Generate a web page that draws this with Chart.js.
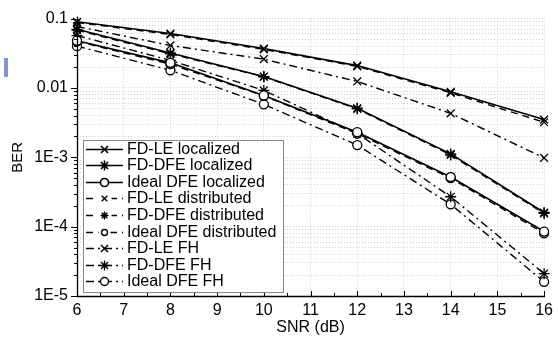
<!DOCTYPE html>
<html><head><meta charset="utf-8">
<script src="https://cdn.jsdelivr.net/npm/chart.js@4.4.0/dist/chart.umd.min.js"></script>
<style>html,body{margin:0;padding:0;background:#fff}#wrap{width:558px;height:337px;position:relative}</style>
</head><body><div id="wrap"><canvas id="c" width="558" height="337"></canvas></div>
<script>
const snr = [6, 8, 10, 12, 14, 16];
const fdleLocalized    = [0.090, 0.061, 0.037, 0.021, 0.0088, 0.0035];
const fddfeLocalized   = [0.070, 0.032, 0.0146, 0.0051, 0.00112, 0.00016];
const idealLocalized   = [0.048, 0.023, 0.0078, 0.0023, 0.00052, 0.000085];
const fdleDistributed  = [0.088, 0.059, 0.036, 0.0205, 0.0085, 0.0032];
const fddfeDistributed = [0.068, 0.031, 0.0145, 0.0050, 0.00108, 0.000155];
const idealDistributed = [0.047, 0.022, 0.0077, 0.0022, 0.00050, 0.00008];
const fdleFH           = [0.077, 0.041, 0.026, 0.0124, 0.0043, 0.00098];
const fddfeFH          = [0.057, 0.025, 0.0092, 0.0022, 0.00027, 0.000021];
const idealFH          = [0.040, 0.018, 0.0058, 0.0015, 0.00021, 0.000016];

const seriesLabels = ['FD-LE localized','FD-DFE localized','Ideal DFE localized',
  'FD-LE distributed','FD-DFE distributed','Ideal DFE distributed',
  'FD-LE FH','FD-DFE FH','Ideal DFE FH'];
const seriesValues = [fdleLocalized, fddfeLocalized, idealLocalized,
  fdleDistributed, fddfeDistributed, idealDistributed, fdleFH, fddfeFH, idealFH];

const xTickValues = [6, 7, 8, 9, 10, 11, 12, 13, 14, 15, 16];
const yMajorValues = [1e-5, 1e-4, 1e-3, 0.01, 0.1];
const yTickLabels = ['1E-5', '1E-4', '1E-3', '0.01', '0.1'];

const FONT = "'Liberation Sans', Arial, sans-serif";
const markerStyles = ['crossRot', 'star', 'circle'];
const dashStyles = [[], [7, 5], [8, 4, 2, 4]];

const yGrid = [];
yMajorValues.forEach((m, i) => {
  if (i === yMajorValues.length - 1) { yGrid.push(m); return; }
  for (let k = 1; k <= 9; k++) yGrid.push(m * k);
});

const datasets = seriesValues.map((vals, i) => {
  const ms = markerStyles[i % 3];
  const group = Math.floor(i / 3);
  return {
    label: seriesLabels[i],
    data: snr.map((x, j) => ({ x: x, y: vals[j] })),
    borderColor: '#000',
    borderWidth: group === 0 ? 1.6 : 1.4,
    borderDash: dashStyles[group],
    pointStyle: ms,
    pointRadius: ms === 'circle' ? 4.5 : 5.5,
    pointBorderWidth: 1.3,
    pointBorderColor: '#000',
    pointBackgroundColor: '#fff',
    fill: false,
    tension: 0,
    clip: false
  };
});

const decor = {
  id: 'decor',
  afterDraw(chart) {
    const ctx = chart.ctx;
    const xs = chart.scales.x, ys = chart.scales.y;
    const a = chart.chartArea;
    ctx.save();
    // stray blue mark
    ctx.fillStyle = '#8094dc';
    ctx.fillRect(4, 58, 4, 19);
    // axes
    ctx.strokeStyle = '#000';
    ctx.lineWidth = 1.3;
    ctx.setLineDash([]);
    ctx.beginPath();
    ctx.moveTo(a.left + 0.5, a.top - 2);
    ctx.lineTo(a.left + 0.5, a.bottom + 0.5);
    ctx.lineTo(a.right + 1, a.bottom + 0.5);
    ctx.stroke();
    ctx.lineWidth = 1;
    ctx.beginPath();
    yGrid.forEach(v => {
      const py = Math.round(ys.getPixelForValue(v)) + 0.5;
      const major = yMajorValues.some(m => Math.abs(m - v) / m < 1e-9);
      ctx.moveTo(a.left, py);
      ctx.lineTo(a.left - (major ? 6 : 3), py);
    });
    for (let x = xTickValues[0]; x <= xTickValues[xTickValues.length - 1] + 1e-9; x += 0.5) {
      const px = Math.round(xs.getPixelForValue(x)) + 0.5;
      const major = Math.abs(x - Math.round(x)) < 1e-9;
      ctx.moveTo(px, a.bottom);
      ctx.lineTo(px, a.bottom - (major ? 5 : 3));
    }
    ctx.stroke();

    // legend
    const L = { x: 83, y: 140, w: 200, h: 152, first: 148.5, row: 16.6, l0: 86, l1: 123, mx: 104.5, tx: 127 };
    ctx.fillStyle = '#fff';
    ctx.fillRect(L.x, L.y, L.w, L.h);
    ctx.strokeStyle = '#888';
    ctx.lineWidth = 1;
    ctx.strokeRect(L.x + 0.5, L.y + 0.5, L.w, L.h);
    chart.data.datasets.forEach((ds, i) => {
      const y = Math.round(L.first + i * L.row) + 0.5;
      const group = Math.floor(i / 3);
      ctx.strokeStyle = '#000';
      ctx.lineWidth = ds.borderWidth;
      ctx.setLineDash(ds.borderDash);
      ctx.beginPath();
      ctx.moveTo(L.l0, y);
      ctx.lineTo(L.l1, y);
      ctx.stroke();
      ctx.setLineDash([]);
      ctx.fillStyle = '#fff';
      ctx.strokeStyle = '#000';
      const r = group === 1 ? ds.pointRadius - 1.5 : ds.pointRadius - 0.5;
      if (group === 1) { ctx.fillRect(L.mx - r - 3, y - r - 2, 2 * r + 6, 2 * r + 4); }
      Chart.helpers.drawPoint(ctx, { pointStyle: ds.pointStyle, radius: r, borderWidth: ds.pointBorderWidth, rotation: 0 }, L.mx, y);
      ctx.fillStyle = '#000';
      ctx.font = '16px ' + FONT;
      ctx.textBaseline = 'middle';
      ctx.textAlign = 'left';
      ctx.fillText(ds.label, L.tx, y);
    });
    ctx.restore();
  }
};

new Chart(document.getElementById('c'), {
  type: 'line',
  data: { datasets: datasets },
  plugins: [decor],
  options: {
    responsive: false,
    animation: false,
    devicePixelRatio: 1,
    layout: { padding: { top: 18, right: 10, left: 0, bottom: 0 } },
    plugins: { legend: { display: false }, tooltip: { enabled: false } },
    scales: {
      x: {
        type: 'linear',
        min: 6, max: 16,
        afterBuildTicks: s => { s.ticks = xTickValues.map(v => ({ value: v })); },
        afterFit: s => { s.height = 41; },
        grid: { color: '#d0d0d0', lineWidth: 1, drawTicks: false },
        border: { display: false, dash: [1, 2] },
        ticks: { color: '#000', font: { family: FONT, size: 16 }, padding: 5, autoSkip: false, maxRotation: 0,
          callback: v => String(v) },
        title: { display: true, text: 'SNR (dB)', color: '#000', font: { family: FONT, size: 16 }, padding: { top: 0, bottom: 0 } }
      },
      y: {
        type: 'logarithmic',
        min: 1e-5, max: 0.1,
        afterBuildTicks: s => { s.ticks = yGrid.map(v => ({ value: v })); },
        afterFit: s => { s.width = 77; },
        grid: { color: '#d0d0d0', lineWidth: 1, drawTicks: false },
        border: { display: false, dash: [1, 2] },
        ticks: { color: '#000', font: { family: FONT, size: 16 }, padding: 9, autoSkip: false,
          callback: v => {
            const i = yMajorValues.findIndex(m => Math.abs(m - v) / m < 1e-9);
            return i >= 0 ? yTickLabels[i] : '';
          } },
        title: { display: true, text: 'BER', color: '#000', font: { family: FONT, size: 15 }, padding: { top: 9, bottom: 0 } }
      }
    }
  }
});
</script>
</body></html>
